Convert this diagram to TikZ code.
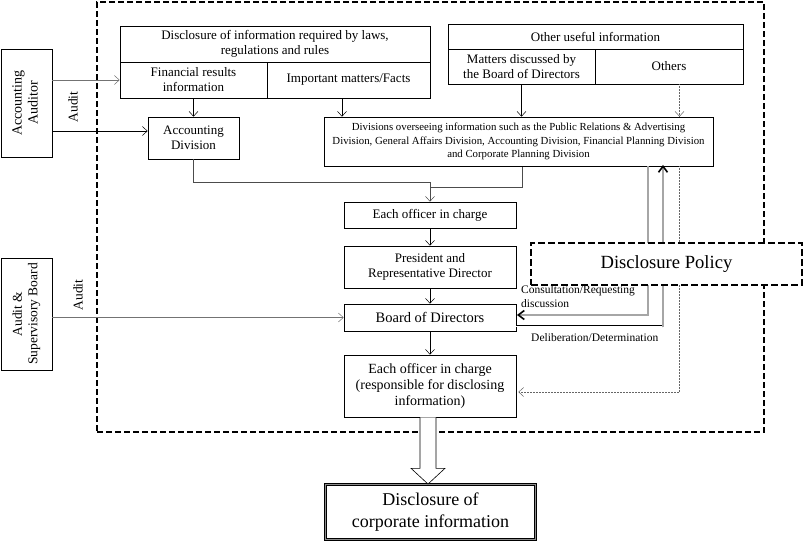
\documentclass[tikz,border=0pt]{standalone}
\usepackage{fontspec}
\setmainfont{Liberation Serif}
\usetikzlibrary{arrows.meta,calc}
\newcommand\fsz[2]{\fontsize{#1}{#2}\selectfont}
\begin{document}
\begin{tikzpicture}[x=1pt,y=-1pt,
  box/.style={draw, line width=0.6pt, inner sep=1pt, align=center, font=\fsz{13}{15}},
  arr/.style={-{Straight Barb[length=5pt,width=9pt]}, line width=0.5pt},
  gline/.style={draw=black!55},
  frame/.style={draw, line width=2.5pt, dash pattern=on 6pt off 3pt, inner sep=0pt},
  policybox/.style={draw, fill=white, line width=2.5pt, dash pattern=on 7pt off 3pt, inner sep=0pt, font=\fsz{18.6}{21}},
  dbl/.style={draw=black!65, double=black!35, double distance=1.2pt, line width=0.8pt},
  dblk/.style={draw=black, double=white, double distance=0.9pt, line width=0.5pt},
  chev/.style={line width=1.6pt, miter limit=10},
  lbl/.style={inner sep=0pt, font=\fsz{11.5}{14}, align=left},
  hollow/.style={draw, fill=white, line width=0.6pt},
  corpbox/.style={draw, double=black!45, double distance=1.2pt, line width=0.9pt, align=center, inner sep=0pt, font=\fsz{18}{21.5}}
]
\useasboundingbox (0,0) rectangle (804,542);

% outer dashed frame
\node[frame, minimum width=667pt, minimum height=430pt] (frame) at (430.5,217) {};

% external boxes
\node[box, font=\fsz{14}{16}, minimum width=51pt, minimum height=108pt] (auditor) at (26.5,103)
  {\rotatebox{90}{\begin{tabular}{@{}c@{}}Accounting\\Auditor\end{tabular}}};
\node[box, font=\fsz{13.5}{15.5}, minimum width=51pt, minimum height=112pt] (asb) at (26.5,314)
  {\rotatebox{90}{\begin{tabular}{@{}c@{}}Audit \&\\Supervisory Board\end{tabular}}};
\node[rotate=90, inner sep=0pt, font=\fsz{13.5}{15}] (audit1) at (73,107) {Audit};
\node[rotate=90, inner sep=0pt, font=\fsz{13.5}{15}] (audit2) at (78,295) {Audit};

% information boxes
\node[box, minimum width=310pt, minimum height=36pt] (law) at (275,44)
  {Disclosure of information required by laws,\\regulations and rules};
\node[box, minimum width=147pt, minimum height=36pt] (fin) at (193.5,80)
  {Financial results\\information};
\node[box, minimum width=163pt, minimum height=36pt] (imp) at (348.5,80)
  {Important matters/Facts};
\node[box, minimum width=295pt, minimum height=25pt] (oth) at (595.5,36.5)
  {Other useful information};
\node[box, minimum width=147pt, minimum height=35pt] (mat) at (521.5,66.5)
  {Matters discussed by\\the Board of Directors};
\node[box, minimum width=148pt, minimum height=35pt] (others) at (669,66.5)
  {Others};

\node[box, minimum width=91pt, minimum height=42pt] (acc) at (193.5,138)
  {Accounting\\Division};
\node[box, font=\fsz{10.8}{13.3}, minimum width=389pt, minimum height=49pt] (div) at (518.5,141.5)
  {Divisions overseeing information such as the Public Relations \& Advertising\\
   Division, General Affairs Division, Accounting Division, Financial Planning Division\\
   and Corporate Planning Division};

\node[box, minimum width=172pt, minimum height=26pt] (off1) at (430,215)
  {Each officer in charge};
\node[box, minimum width=172pt, minimum height=42pt] (pres) at (430,267)
  {President and\\Representative Director};
\node[box, font=\fsz{14.5}{16}, minimum width=172pt, minimum height=27pt] (board) at (430,317.5)
  {Board of Directors};
\node[box, font=\fsz{14}{15.7}, minimum width=172pt, minimum height=62pt] (off2) at (430,386)
  {Each officer in charge\\(responsible for disclosing\\information)};

\node[corpbox, minimum width=210pt, minimum height=55pt] (corp) at (430.5,512)
  {Disclosure of\\corporate information};

% helper coordinates
\coordinate (accin) at ([yshift=7pt]acc.west);
\coordinate (impout) at ([xshift=-6.5pt]imp.south);
\coordinate (othout) at ([xshift=10.5pt]others.south);
\coordinate (divout) at ([xshift=3.5pt]div.south);
\coordinate (consx) at ([xshift=129.5pt]div.south);
\coordinate (delx) at ([xshift=144.5pt]div.south);
\coordinate (dotx) at ([xshift=161pt]div.south);
\coordinate (consin) at ([yshift=2.5pt,xshift=2pt]board.east);
\coordinate (delout) at ([yshift=-8.5pt]board.east);
\coordinate (dotin) at ([yshift=-6pt,xshift=2pt]off2.east);

% audit arrows
\draw[arr, gline] (auditor.east |- fin.west) -- (fin.west);
\draw[arr] (auditor.east |- accin) -- (accin);
\draw[arr, gline] (asb.east |- board.west) -- (board.west);

% arrows into divisions
\draw[arr] (fin.south) -- (acc.north);
\draw[arr] (impout) -- (impout |- div.north);
\draw[arr] (mat.south) -- (mat.south |- div.north);
\draw[arr, black!60, densely dotted] (othout) -- (othout |- div.north);

% to officer
\draw[arr, black!70] (acc.south) -- ++(0,23) -| (off1.north);
\draw[black!70, line width=0.5pt] (divout) |- ($(off1.north)+(0,-14)$);
\draw[line width=1.3pt] ([xshift=1.5pt]div.south) -- ([xshift=94.5pt]div.south);

% chain
\draw[arr] (off1.south) -- (pres.north);
\draw[arr] (pres.south) -- (board.north);
\draw[arr] (board.south) -- (board.south |- off2.north);

% consultation / deliberation
\draw[dbl] (consx) |- (consin);
\draw[chev] ($(consin)+(6,-4.5)$) -- (consin) -- ($(consin)+(6,4.5)$);
\draw[dblk] (delout) -| ($(delx)+(0,161)$);
\draw[dbl] ($(delx)+(0,161)$) -- (delx);
\draw[chev] ($(delx)+(-4.5,6)$) -- (delx) -- ($(delx)+(4.5,6)$);

% dotted to officer 2
\draw[arr, black!60, densely dotted] (dotx) |- (dotin);

% policy box on top
\node[policybox, minimum width=271pt, minimum height=42pt] (policy) at (666.5,264) {Disclosure Policy};

% labels
\node[lbl, anchor=west] (lcons) at (521,297) {Consultation/Requesting\\discussion};
\node[lbl, anchor=west] (ldel) at (531,338) {Deliberation/Determination};

% hollow arrow
\draw[hollow] ($(off2.south)+(-10,0)$) -- ++(0,51) -- ++(-9,0)
  -- ($(corp.north)+(-2.5,0)$) -- ($(off2.south)+(15,51)$) -- ++(-9,0)
  -- ($(off2.south)+(6,0)$);
\end{tikzpicture}
\end{document}
